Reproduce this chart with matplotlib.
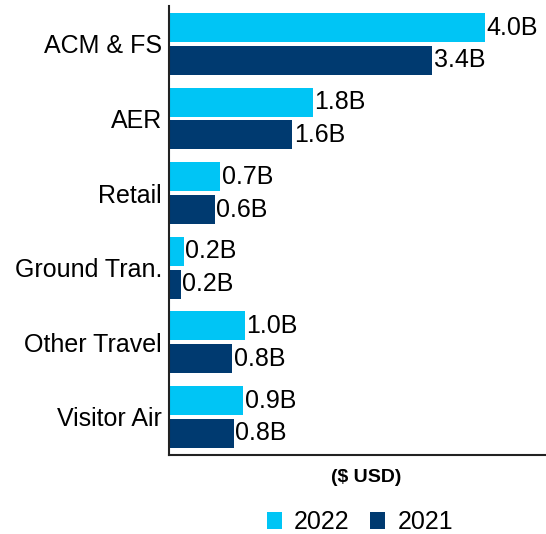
import matplotlib.pyplot as plt
import numpy as np

plt.rcParams['font.family'] = ['Liberation Sans', 'DejaVu Sans']

categories = ['ACM & FS', 'AER', 'Retail', 'Ground Tran.', 'Other Travel', 'Visitor Air']
vals_2022 = [4.0, 1.82, 0.65, 0.19, 0.96, 0.94]
vals_2021 = [3.33, 1.56, 0.58, 0.15, 0.80, 0.82]
labels_2022 = ['4.0B', '1.8B', '0.7B', '0.2B', '1.0B', '0.9B']
labels_2021 = ['3.4B', '1.6B', '0.6B', '0.2B', '0.8B', '0.8B']

c22 = '#00C5F5'
c21 = '#003A70'

fig = plt.figure(figsize=(5.46, 5.34), dpi=100)
ax = fig.add_axes([0.3095, 0.148, 0.6905, 0.841])

y = np.arange(len(categories))
h = 0.39
off = 0.22
b22 = ax.barh(y - off, vals_2022, height=h, color=c22, label='2022')
b21 = ax.barh(y + off, vals_2021, height=h, color=c21, label='2021')
ax.bar_label(b22, labels=labels_2022, padding=1, fontsize=18)
ax.bar_label(b21, labels=labels_2021, padding=1, fontsize=18)

ax.set_yticks(y)
ax.set_yticklabels(categories, fontsize=18)
ax.set_ylim(5.51, -0.51)
ax.set_xlim(0, 4.77)
ax.set_xticks([])
ax.spines['top'].set_visible(False)
ax.spines['right'].set_visible(False)
ax.spines['left'].set_linewidth(1.5)
ax.spines['bottom'].set_linewidth(1.5)
ax.spines['left'].set_color('#222222')
ax.spines['bottom'].set_color('#222222')
ax.tick_params(axis='y', length=0, pad=5)
ax.set_xlabel('($ USD)', fontsize=14, fontweight='bold', labelpad=10, x=0.523)

fig.legend(handles=[b22, b21], loc='center', bbox_to_anchor=(0.659, 0.022),
           ncol=2, frameon=False, fontsize=18, handlelength=0.6, handleheight=0.65,
           handletextpad=0.5, columnspacing=0.8)

fig.savefig('out.png', dpi=100)
